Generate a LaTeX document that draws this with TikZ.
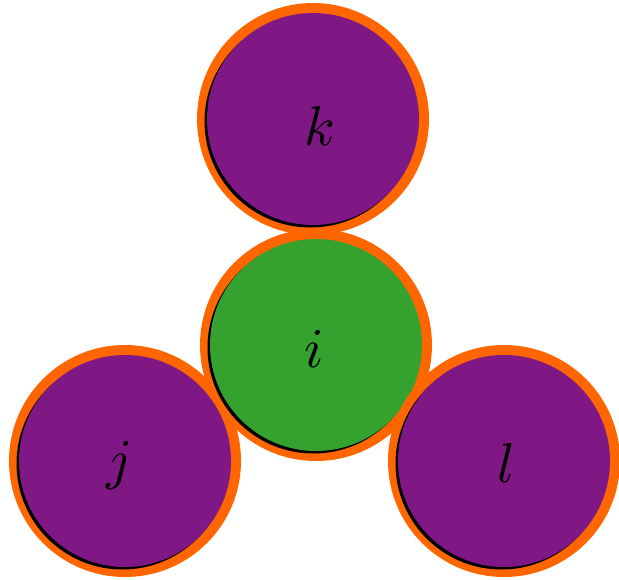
\documentclass[tikz,border=0pt]{standalone}
\begin{document}
\begin{tikzpicture}[x=1pt,y=-1pt,
  lbl/.style={scale=5.6, inner sep=0pt}]
\definecolor{ringorange}{HTML}{FF6600}
\definecolor{vpurple}{HTML}{7F1884}
\definecolor{vgreen}{HTML}{35A12E}
\useasboundingbox (0,0) rectangle (619,579);
\newcommand{\myvertex}[7]{%
  \fill[ringorange] (#1,#2) circle (116);
  \fill[black] (#1-2.5,#2+2.5) circle (106);
  \fill[#3] (#1,#2) circle (106);
  \node[lbl] (#4) at (#6,#7) {$#5$};
}
\myvertex{125}{461}{vpurple}{j}{j}{120}{465}
\myvertex{313}{119}{vpurple}{k}{k}{320}{126}
\myvertex{316}{345}{vgreen}{i}{i}{314}{349}
\myvertex{504}{461}{vpurple}{l}{l}{506}{463}
\end{tikzpicture}
\end{document}
